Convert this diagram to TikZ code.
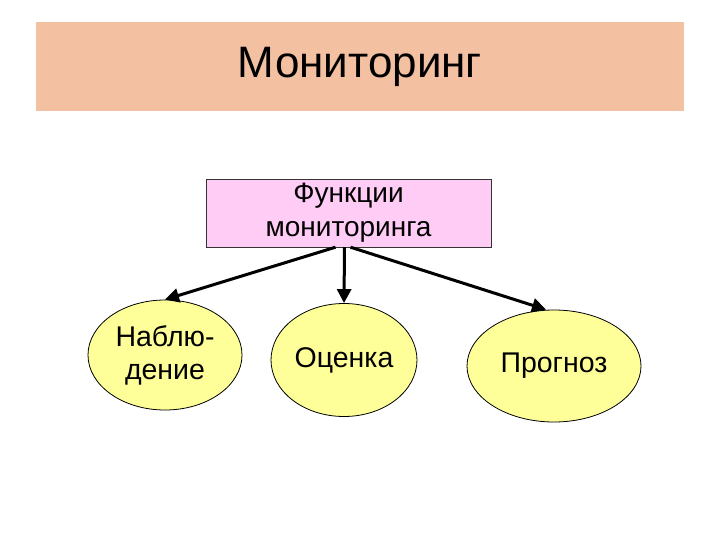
\documentclass[tikz,border=0pt]{standalone}
\usepackage{fontspec}
\setmainfont{Liberation Sans}
\usetikzlibrary{shapes.geometric,arrows.meta}
\definecolor{band}{HTML}{F4C0A2}
\definecolor{boxpink}{HTML}{FFCCF5}
\definecolor{ell}{HTML}{FFFF99}
\tikzset{
  ellnode/.style={ellipse,draw=black,fill=ell,line width=0.8pt,inner sep=0pt,align=center,font=\fontsize{28.5}{33}\selectfont},
  arr/.style={line width=3pt,-{Triangle[length=14pt,width=14pt]}}
}
\begin{document}
\begin{tikzpicture}[x=1pt,y=-1pt]
\useasboundingbox (0,0) rectangle (720,540);
\fill[white] (0,0) rectangle (720,540);
\node[fill=band,minimum width=648pt,minimum height=89pt,inner sep=0pt,font=\fontsize{44}{50}\selectfont] (title) at (360,66.5) {Мониторинг};
\node[draw=black!80,fill=boxpink,minimum width=285pt,minimum height=68pt,inner sep=0pt,align=center,font=\fontsize{28}{34}\selectfont] (fun) at (348.5,213) {Функции\\мониторинга};
\node[ellnode,minimum width=154pt,minimum height=110pt] (a) at (165,355) {Наблю-\\дение};
\node[ellnode,minimum width=146pt,minimum height=113pt] (b) at (344,360) {Оценка};
\node[ellnode,minimum width=174pt,minimum height=112pt] (c) at (554,366) {Прогноз};
\draw[arr] ([xshift=-13pt]fun.south) -- (a.north);
\draw[arr] ([xshift=-4pt]fun.south) -- (b.north);
\draw[arr] ([xshift=2pt]fun.south) -- ([xshift=-8pt]c.north);
\end{tikzpicture}
\end{document}
